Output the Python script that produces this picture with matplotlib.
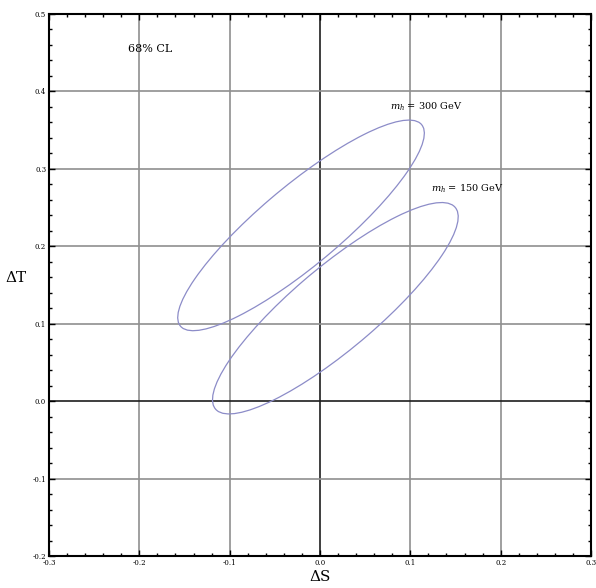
import numpy as np
import matplotlib
matplotlib.use('Agg')
import matplotlib.pyplot as plt
from matplotlib.patches import Ellipse
from matplotlib.ticker import MultipleLocator

# ellipse parameters (68% CL contours)
labels = ['$m_h$ = 300 GeV', '$m_h$ = 150 GeV']
center_S = [-0.021, 0.017]
center_T = [0.227, 0.120]
half_S = [0.1365, 0.136]      # half extent along S
half_T = [0.136, 0.1365]      # half extent along T
corr = [0.875, 0.865]
label_S = [0.077, 0.1227]
label_T = [0.380, 0.274]

xticks = [-0.3, -0.2, -0.1, 0.0, 0.1, 0.2, 0.3]
yticks = [-0.2, -0.1, 0.0, 0.1, 0.2, 0.3, 0.4, 0.5]

plt.rcParams['font.family'] = ['DejaVu Serif']
plt.rcParams['mathtext.fontset'] = 'dejavuserif'

fig = plt.figure(figsize=(5.96, 5.88), dpi=100)
ax = fig.add_axes([49/596, 1-556/588, (591-49)/596, (556-14)/588])

ax.set_xlim(-0.3, 0.3)
ax.set_ylim(-0.2, 0.5)

for x in xticks[1:-1]:
    c = '#1e1e1e' if x == 0 else '#8f8f8f'
    ax.axvline(x, color=c, lw=1.2, zorder=1)
for y in yticks[1:-1]:
    c = '#1e1e1e' if y == 0 else '#8f8f8f'
    ax.axhline(y, color=c, lw=1.2, zorder=1)

for cs, ct, a, b, r in zip(center_S, center_T, half_S, half_T, corr):
    cov = np.array([[a*a, r*a*b], [r*a*b, b*b]])
    vals, vecs = np.linalg.eigh(cov)
    ang = np.degrees(np.arctan2(vecs[1, 1], vecs[0, 1]))
    e = Ellipse((cs, ct), 2*np.sqrt(vals[1]), 2*np.sqrt(vals[0]), angle=ang,
                fill=False, edgecolor='#8c8cc8', lw=0.9, zorder=3)
    ax.add_patch(e)

for lab, sx, ty in zip(labels, label_S, label_T):
    ax.text(sx, ty, lab, fontsize=7, ha='left', va='center', zorder=4)

ax.text(-0.188, 0.455, '68% CL', fontsize=8, ha='center', va='center')

ax.set_xticks(xticks)
ax.set_yticks(yticks)
ax.set_xticklabels(['%.1f' % v if v != 0 else '0.0' for v in xticks])
ax.set_yticklabels(['%.1f' % v if v != 0 else '0.0' for v in yticks])
ax.xaxis.set_minor_locator(MultipleLocator(0.02))
ax.yaxis.set_minor_locator(MultipleLocator(0.02))
ax.tick_params(which='both', direction='in', top=True, right=True, labelsize=5, width=1.0, pad=2)
ax.tick_params(which='major', length=4)
ax.tick_params(which='minor', length=2.5)
for s in ax.spines.values():
    s.set_linewidth(1.5)

ax.set_xlabel('ΔS', fontsize=11, labelpad=2)
ax.set_ylabel('ΔT', fontsize=11, rotation=0, labelpad=12)

fig.savefig('out.png', dpi=100, facecolor='white')
